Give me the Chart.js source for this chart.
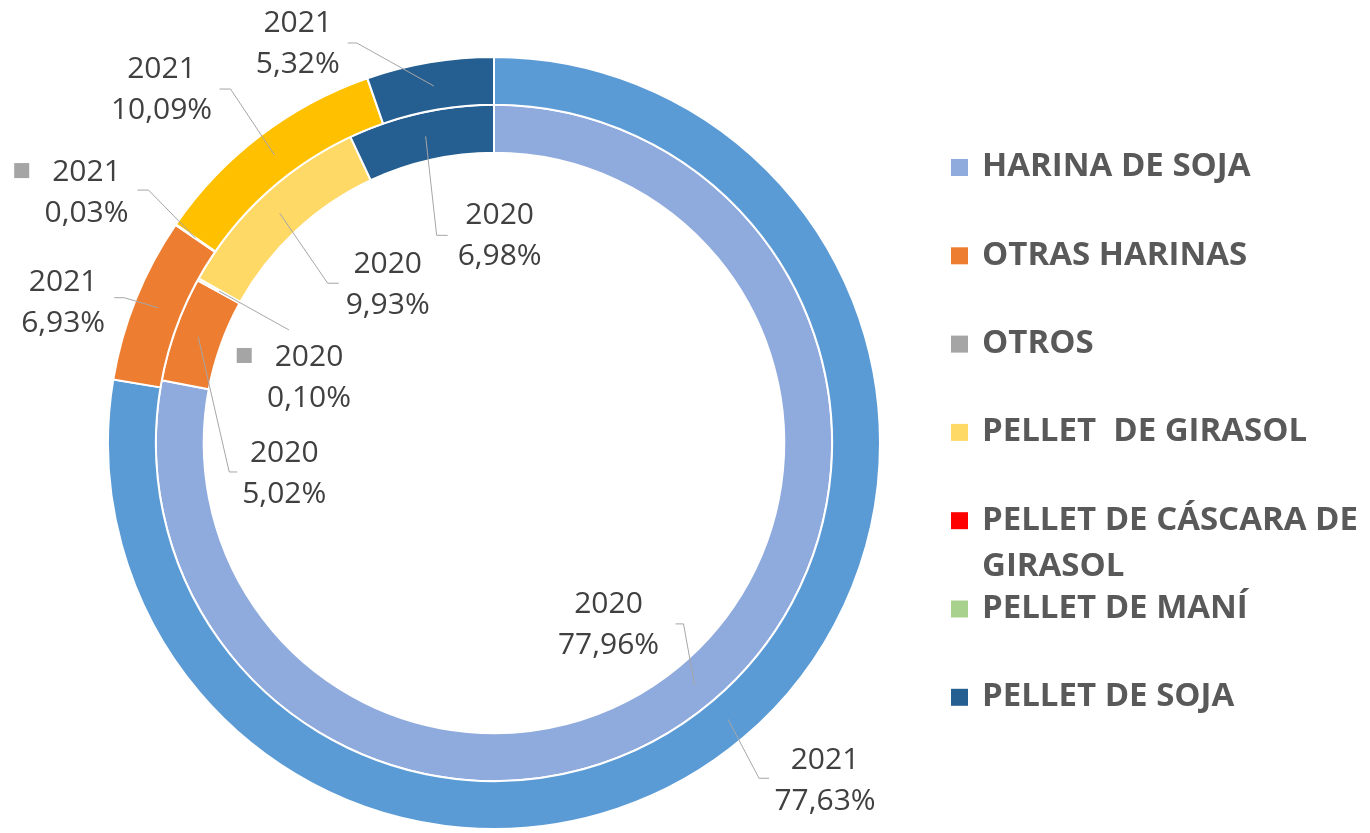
<!DOCTYPE html>
<html><head><meta charset="utf-8">
<script src="https://cdn.jsdelivr.net/npm/chart.js@4.4.0/dist/chart.umd.min.js"></script>
<style>html,body{margin:0;padding:0;background:#fff;overflow:hidden}#wrap{width:1370px;height:833px;position:relative}</style>
</head><body><div id="wrap"><canvas id="c"></canvas></div>
<script>
// ---- data ----
const categories = ['HARINA DE SOJA','OTRAS HARINAS','OTROS','PELLET  DE GIRASOL','PELLET DE CÁSCARA DE GIRASOL','PELLET DE MANÍ','PELLET DE SOJA'];
const seriesNames = ['2021','2020'];
const values2021 = [77.63, 6.93, 0.03, 10.09, 0, 0, 5.32];
const values2020 = [77.96, 5.02, 0.10, 9.93, 0, 0, 6.98];
// ---- styles ----
const colors2021 = ['#5B9BD5','#ED7D31','#A5A5A5','#FFC000','#FF0000','#A9D18E','#255E91'];
const colors2020 = ['#8FAADC','#ED7D31','#A5A5A5','#FFD966','#FF0000','#A9D18E','#255E91'];
const legendColors = ['#8FAADC','#ED7D31','#A5A5A5','#FFD966','#FF0000','#A9D18E','#255E91'];
const keyedLabelIndex = 2; // labels showing legend key
// label placement: offset of label center from arc centroid (dx,dy), elbow offset from label center (ex,ey), tail
const labelLayout = [
  [ {dx:97,dy:61,ex:-66,ey:-2,tail:10}, {dx:-95,dy:-5,ex:61,ey:-5,tail:-10}, {dx:-109,dy:-46,ex:62,ey:-2,tail:-11},
    {dx:-113,dy:-66,ex:69,ey:0,tail:-11}, null, null, {dx:-136,dy:-43,ex:59,ey:0,tail:-9} ],
  [ {dx:-86,dy:-60,ex:75,ey:-1,tail:-8}, {dx:86,dy:136,ex:-55,ey:-1,tail:8}, {dx:90,dy:86,ex:-20,ey:-47,tail:0},
    {dx:108,dy:71,ex:-60,ey:-1,tail:11}, null, null, {dx:74,dy:99,ex:-63,ey:0,tail:11} ]
];

const fmt = v => v.toFixed(2).replace('.', ',') + '%';

const labelPlugin = {
  id: 'labels',
  afterDatasetsDraw(chart) {
    const ctx = chart.ctx;
    ctx.save();
    ctx.font = '30px "Open Sans"';
    ctx.textAlign = 'center';
    ctx.textBaseline = 'middle';
    chart.data.datasets.forEach((ds, di) => {
      const meta = chart.getDatasetMeta(di);
      ds.data.forEach((v, i) => {
        const L = labelLayout[di][i];
        if (!v || !L) return;
        const c = meta.data[i].getCenterPoint();
        const lx = c.x + L.dx, ly = c.y + L.dy;
        // leader
        ctx.strokeStyle = '#A6A6A6';
        ctx.lineWidth = 1;
        ctx.beginPath();
        ctx.moveTo(c.x, c.y);
        const ex = lx + L.ex, ey = ly + L.ey;
        ctx.lineTo(ex, ey);
        if (L.tail) ctx.lineTo(ex + L.tail, ey);
        ctx.stroke();
        // text
        ctx.fillStyle = '#404040';
        const t1 = ds.label, t2 = fmt(v);
        ctx.fillText(t1, lx, ly - 20);
        ctx.fillText(t2, lx, ly + 21);
        if (i === keyedLabelIndex) {
          const w = ctx.measureText(t1).width;
          ctx.fillStyle = legendColors[i];
          ctx.fillRect(lx - w / 2 - 38, ly - 20 - 9, 15, 15);
        }
      });
    });
    ctx.restore();
  }
};

const legendPlugin = {
  id: 'customLegend',
  afterDraw(chart) {
    const ctx = chart.ctx;
    ctx.save();
    ctx.font = 'bold 33px "Open Sans"';
    ctx.textAlign = 'left';
    ctx.textBaseline = 'middle';
    const x0 = 951, tx = 982, maxW = 385;
    categories.forEach((cat, i) => {
      const y = 167 + 88.3 * i;
      ctx.fillStyle = legendColors[i];
      ctx.fillRect(x0, y - 8, 17, 17);
      ctx.fillStyle = '#595959';
      const words = cat.split(' ');
      let lines = [], cur = '';
      words.forEach(w => {
        const test = cur === '' ? w : cur + ' ' + w;
        if (ctx.measureText(test).width > maxW && cur !== '') { lines.push(cur); cur = w; }
        else cur = test;
      });
      lines.push(cur);
      lines.forEach((ln, k) => ctx.fillText(ln, tx, y + 46 * k));
    });
    ctx.restore();
  }
};

new Chart(document.getElementById('c'), {
  type: 'doughnut',
  data: {
    labels: categories,
    datasets: [
      { label: seriesNames[0], data: values2021, backgroundColor: colors2021, borderColor: '#FFFFFF', borderWidth: 2 },
      { label: seriesNames[1], data: values2020, backgroundColor: colors2020, borderColor: '#FFFFFF', borderWidth: 2 }
    ]
  },
  options: {
    responsive: true,
    maintainAspectRatio: false,
    animation: false,
    cutout: '75.2%',
    layout: { padding: { left: 107, top: 56, bottom: 3, right: 489 } },
    plugins: { legend: { display: false }, tooltip: { enabled: false } }
  },
  plugins: [labelPlugin, legendPlugin]
});
</script></body></html>
